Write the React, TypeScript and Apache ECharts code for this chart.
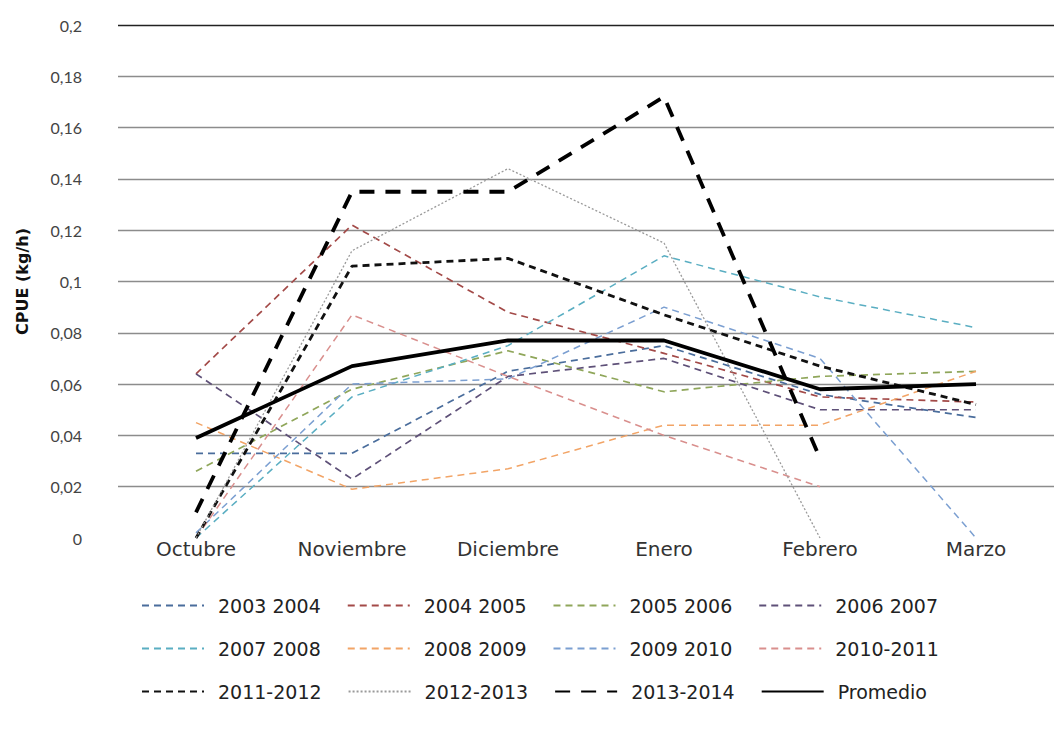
import React, { useEffect, useRef } from "react";
import * as echarts from "echarts";

const categories = ["Octubre", "Noviembre", "Diciembre", "Enero", "Febrero", "Marzo"];
const yTicks = [0, 0.02, 0.04, 0.06, 0.08, 0.1, 0.12, 0.14, 0.16, 0.18, 0.2];

const s2003 = [0.033, 0.033, 0.065, 0.075, 0.056, 0.047];
const s2004 = [0.064, 0.122, 0.088, 0.072, 0.055, 0.053];
const s2005 = [0.026, 0.058, 0.073, 0.057, 0.063, 0.065];
const s2006 = [0.064, 0.023, 0.063, 0.07, 0.05, 0.05];
const s2007 = [0.0, 0.055, 0.075, 0.11, 0.094, 0.082];
const s2008 = [0.045, 0.019, 0.027, 0.044, 0.044, 0.065];
const s2009 = [0.002, 0.06, 0.062, 0.09, 0.07, 0.0];
const s2010 = [0.0, 0.087, 0.063, 0.04, 0.02, null];
const s2011 = [0.0, 0.106, 0.109, 0.087, 0.067, 0.052];
const s2012 = [0.0, 0.112, 0.144, 0.115, 0.0, null];
const s2013 = [0.01, 0.135, 0.135, 0.172, 0.031, null];
const promedio = [0.039, 0.067, 0.077, 0.077, 0.058, 0.06];

const names = [
  "2003 2004", "2004 2005", "2005 2006", "2006 2007",
  "2007 2008", "2008 2009", "2009 2010", "2010-2011",
  "2011-2012", "2012-2013", "2013-2014", "Promedio",
];
const values = [s2003, s2004, s2005, s2006, s2007, s2008, s2009, s2010, s2011, s2012, s2013, promedio];

const styles: any[] = [
  { color: "#4a6d9c", width: 1.7, type: [7, 5] },
  { color: "#a34a48", width: 1.7, type: [7, 5] },
  { color: "#8fa65a", width: 1.7, type: [7, 5] },
  { color: "#5e5078", width: 1.7, type: [7, 5] },
  { color: "#5aaec2", width: 1.5, type: [7, 5] },
  { color: "#f2a466", width: 1.5, type: [7, 5] },
  { color: "#7b9fd1", width: 1.5, type: [7, 5] },
  { color: "#d98f8d", width: 1.5, type: [7, 5] },
  { color: "#111111", width: 2.8, type: [7, 5] },
  { color: "#9a9a9a", width: 1.3, type: [2, 2] },
  { color: "#000000", width: 3.8, type: [15, 11] },
  { color: "#000000", width: 3.8, type: "solid" },
];

const wideFont = "'DejaVu Sans', sans-serif";
const font = "Lato, 'Open Sans', sans-serif";

export default function App() {
  const ref = useRef<HTMLDivElement>(null);
  useEffect(() => {
    if (!ref.current) return;
    const chart = echarts.init(ref.current, undefined, { renderer: "svg" });
    const lineColors = yTicks.map((v, i) => (i === 0 ? "rgba(0,0,0,0)" : i === yTicks.length - 1 ? "#222222" : "#8c8c8c"));
    const legendText = { fontFamily: wideFont, fontSize: 19, color: "#222", padding: [0, 0, 0, 9] };
    const rows = [names.slice(0, 4), names.slice(4, 8), names.slice(8, 12)];
    chart.setOption({
      animation: false,
      backgroundColor: "#ffffff",
      grid: { left: 118, top: 25, width: 950, height: 513 },
      xAxis: {
        type: "category",
        data: categories,
        boundaryGap: true,
        axisLine: { show: false },
        axisTick: { show: false },
        axisLabel: { fontFamily: wideFont, fontSize: 20, color: "#333", margin: 1 },
      },
      yAxis: {
        type: "value",
        min: 0,
        max: 0.2,
        interval: 0.02,
        name: "CPUE (kg/h)",
        nameLocation: "middle",
        nameGap: 88,
        nameTextStyle: { fontFamily: wideFont, fontSize: 16, fontWeight: "bold", color: "#111" },
        axisLine: { show: false },
        axisTick: { show: false },
        axisLabel: {
          fontFamily: font,
          fontSize: 16,
          color: "#444",
          margin: 36,
          formatter: (v: number) => String(Math.round(v * 100) / 100).replace(".", ","),
        },
        splitLine: { lineStyle: { color: lineColors, width: 1.3 } },
      },
      legend: rows.map((r, i) => ({
        data: r,
        left: 136,
        top: 591 + i * 43,
        itemGap: 26,
        itemWidth: 62,
        itemHeight: 14,
        textStyle: legendText,
        itemStyle: { opacity: 0 },
      })),
      series: values.map((d, i) => ({
        name: names[i],
        type: "line",
        data: d,
        symbol: "none",
        connectNulls: false,
        lineStyle: styles[i],
        itemStyle: { color: styles[i].color },
        z: 2 + i,
      })),
    });
    return () => chart.dispose();
  }, []);
  return <div ref={ref} style={{ position: "absolute", left: 0, top: 0, width: 1054, height: 735 }} />;
}
